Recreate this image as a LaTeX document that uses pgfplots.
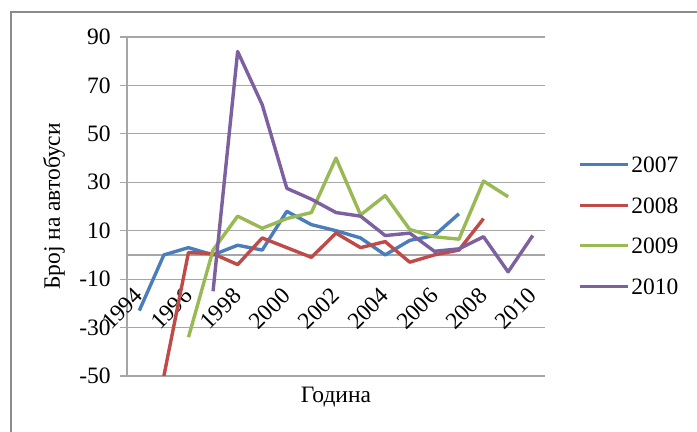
\documentclass[border=0pt]{standalone}
\usepackage{pgfplots}
\pgfplotsset{compat=1.18}
\usepackage{fontspec}
\setmainfont{Liberation Serif}
\definecolor{cblue}{HTML}{4A7EBB}
\definecolor{cred}{HTML}{BE4B48}
\definecolor{cgreen}{HTML}{98B954}
\definecolor{cpurple}{HTML}{7D60A0}
\definecolor{gridgray}{HTML}{A6A6A6}
\definecolor{framegray}{HTML}{8C8C8C}
\begin{document}
\begin{tikzpicture}
\useasboundingbox (0,0) rectangle (348.5pt,216pt);
\fill[white] (0,0) rectangle (348.5pt,216pt);
\draw[framegray, line width=0.8pt] (5.5pt,0pt) -- (5.5pt,210pt) -- (348.5pt,210pt);
\begin{axis}[
  at={(63.5pt,28pt)}, anchor=south west,
  scale only axis, width=209pt, height=169.5pt,
  xmin=1993.5, xmax=2010.5, ymin=-50, ymax=90,
  axis y line=left, axis x line=middle,
  every inner x axis line/.append style={-},
  axis line style={-, draw=gridgray, line width=0.6pt},
  y axis line style={-},
  x axis line style={-},
  ytick={-50,-30,-10,10,30,50,70,90},
  xtick={1994,1996,...,2010},
  xticklabels={1994,1996,1998,2000,2002,2004,2006,2008,2010},
  ymajorgrids, grid style={gridgray, line width=0.6pt},
  tick align=outside, major tick length=3.5pt,
  tick style={gridgray, line width=0.6pt},
  x tick style={draw=none},
  /pgf/number format/assume math mode=true,
  tick label style={font=\fontsize{11.75}{14}\selectfont},
  yticklabel style={inner sep=0pt, xshift=-4.5pt},
  xticklabel style={xshift=-3pt, yshift=-12pt, rotate=45, anchor=north east, inner sep=0pt},
  label style={font=\fontsize{11.75}{14}\selectfont},
  xlabel={Година},
  xlabel style={at={(axis description cs:0.5,-0.062)}, anchor=center},
  ylabel={Број на автобуси},
  ylabel style={at={(axis description cs:-0.1746,0.5)}, anchor=center, rotate=0},
  legend style={draw=none, fill=none, inner sep=0pt, outer sep=0pt,
    at={(axis description cs:1.08,0.646)}, anchor=north west,
    font=\fontsize{11.75}{14}\selectfont, row sep=12.25pt, column sep=1pt,
    nodes={inner sep=0pt, text height=8pt, text depth=0pt}},
  legend cell align=left,
  legend image code/.code={\draw[#1, line width=1.5pt] (0pt,0pt) -- (24pt,0pt);},
  every axis plot/.append style={line width=1.7pt, line join=round, mark=none},
]
\addplot[cblue] coordinates {(1994,-23) (1995,0) (1996,3) (1997,0) (1998,4) (1999,2) (2000,18) (2001,12.5) (2002,10) (2003,7) (2004,0) (2005,6) (2006,8) (2007,17)};
\addlegendentry{2007}
\addplot[cred] coordinates {(1995,-50) (1996,1) (1997,0.5) (1998,-4) (1999,7) (2000,3) (2001,-1) (2002,9) (2003,3) (2004,5.5) (2005,-3) (2006,0) (2007,2) (2008,15)};
\addlegendentry{2008}
\addplot[cgreen] coordinates {(1996,-34) (1997,2) (1998,16) (1999,11) (2000,15) (2001,17.5) (2002,40) (2003,16.5) (2004,24.5) (2005,10.5) (2006,7.5) (2007,6.5) (2008,30.5) (2009,24)};
\addlegendentry{2009}
\addplot[cpurple] coordinates {(1997,-15) (1998,84) (1999,62) (2000,27.5) (2001,23) (2002,17.5) (2003,16) (2004,8) (2005,9) (2006,1.5) (2007,2.5) (2008,7.5) (2009,-7) (2010,8)};
\addlegendentry{2010}
\end{axis}
\end{tikzpicture}
\end{document}
